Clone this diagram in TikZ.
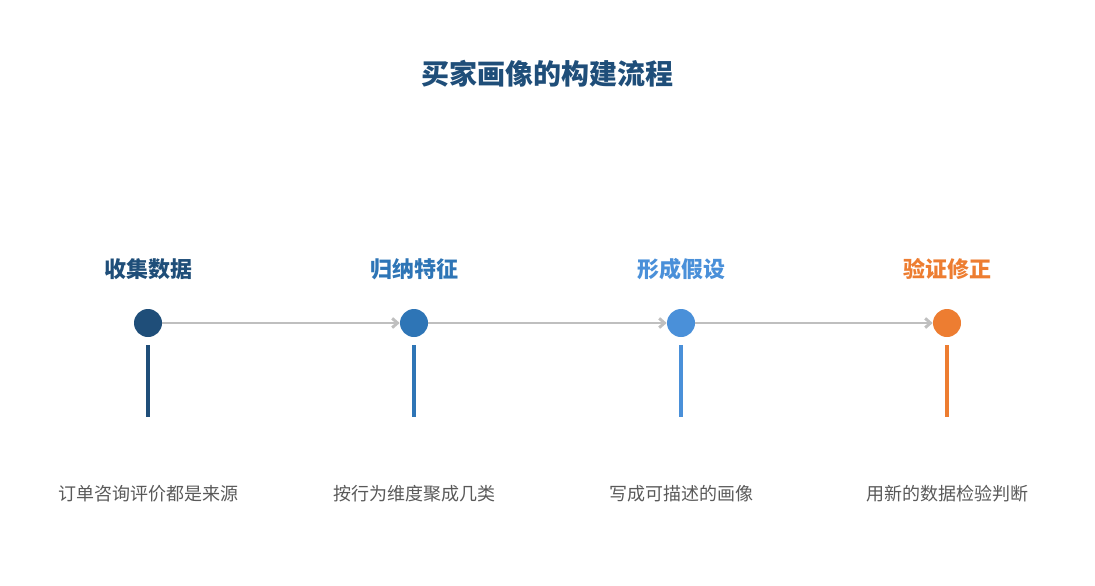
\documentclass[tikz,border=0pt]{standalone}
\usepackage{fontspec}
\newfontfamily\cjk{Noto Sans CJK SC}
\usetikzlibrary{arrows.meta}
\definecolor{c1}{HTML}{1F4E79}
\definecolor{c2}{HTML}{2E75B6}
\definecolor{c3}{HTML}{4A90D9}
\definecolor{c4}{HTML}{ED7D31}
\definecolor{gr}{HTML}{BFBFBF}
\definecolor{tx}{HTML}{595959}
\begin{document}
\begin{tikzpicture}[x=0.75pt,y=-0.75pt,
 dot/.style={circle,fill=#1,minimum size=21pt,inner sep=0pt},
 head/.style={font=\cjk\bfseries\fontsize{16.5}{18}\selectfont,text=#1},
 desc/.style={font=\cjk\fontsize{13.5}{16}\selectfont,text=tx},
 stem/.style={line width=3pt,draw=#1},
 conn/.style={draw=gr,line width=2.2pt,-{Straight Barb[length=4pt,width=7pt]}}]
\useasboundingbox (0,0) rectangle (1095,585);
\node[font=\cjk\bfseries\fontsize{21}{24}\selectfont,text=c1] (t) at (547,74) {买家画像的构建流程};
\foreach \i/\x/\c/\h/\d in {1/148/c1/收集数据/订单咨询评价都是来源,2/414/c2/归纳特征/按行为维度聚成几类,3/681/c3/形成假设/写成可描述的画像,4/947/c4/验证修正/用新的数据检验判断}{
 \node[head=\c] (h\i) at (\x,269) {\h};
 \node[dot=\c] (d\i) at (\x,323) {};
 \coordinate (s\i) at (\x,345);
 \coordinate (e\i) at (\x,417);
 \draw[stem=\c] (s\i) -- (e\i);
 \node[desc] (t\i) at (\x,494) {\d};
}
\begin{scope}[on background layer/.try]
\draw[conn] (d1) -- (d2);
\draw[conn] (d2) -- (d3);
\draw[conn] (d3) -- (d4);
\end{scope}
\end{tikzpicture}
\end{document}
